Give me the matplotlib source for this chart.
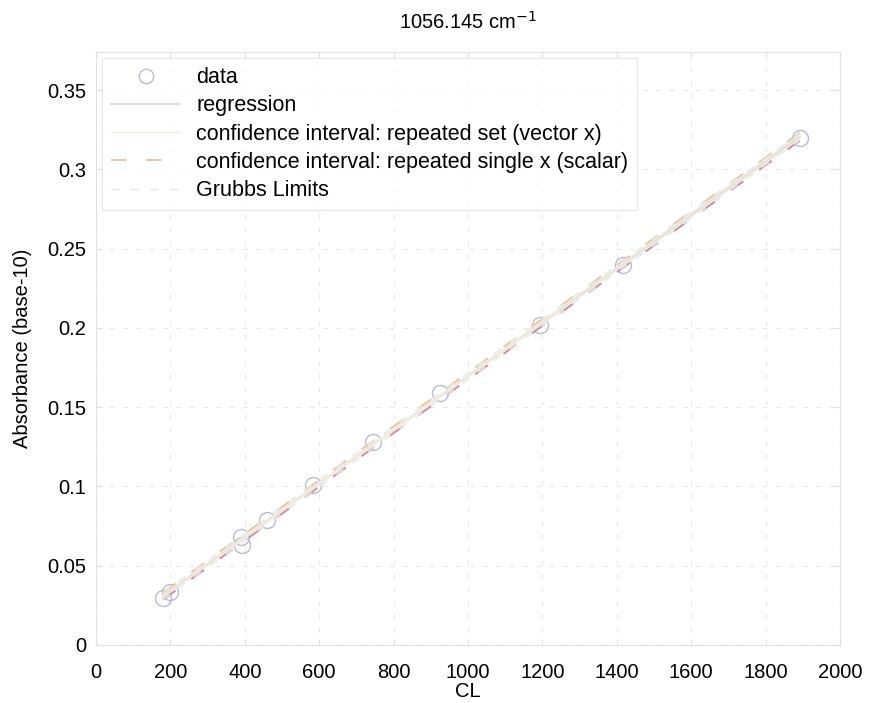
import numpy as np
import matplotlib
matplotlib.use("Agg")
import matplotlib.pyplot as plt

plt.rcParams['font.family'] = ['Liberation Sans', 'DejaVu Sans']

# ----------------------------------------------------------------------
# data
# ----------------------------------------------------------------------
cl = np.array([180, 200, 390, 392, 460, 583, 745, 925, 1194, 1417, 1892])
absorb = np.array([0.0296, 0.0334, 0.0680, 0.0630, 0.0788, 0.1010,
                   0.1280, 0.1590, 0.2018, 0.2396, 0.3197])

title = "1056.145 cm$^{-1}$"
xticks = [0, 200, 400, 600, 800, 1000, 1200, 1400, 1600, 1800, 2000]
yticks = [0, 0.05, 0.1, 0.15, 0.2, 0.25, 0.3, 0.35]
ytick_labels = ["0", "0.05", "0.1", "0.15", "0.2", "0.25", "0.3", "0.35"]

# band half widths as seen on the chart (they hug the line)
s_read = 0.0009
t_val = 2.262  # t(0.975, n-2)

# ----------------------------------------------------------------------
# regression + intervals
# ----------------------------------------------------------------------
slope, icpt = np.polyfit(cl, absorb, 1)
n = len(cl)
xs = np.linspace(cl.min(), cl.max(), 60)
fit = slope * xs + icpt
sxx = np.sum((cl - cl.mean())**2)
ci_vec = t_val * s_read * np.sqrt(1 / n + (xs - cl.mean())**2 / sxx)
ci_sc = t_val * s_read * np.sqrt(1 + 1 / n + (xs - cl.mean())**2 / sxx)
grubbs = 2.36 * s_read

# ----------------------------------------------------------------------
# plot
# ----------------------------------------------------------------------
fig = plt.figure(figsize=(8.7, 7.03), dpi=100)
ax = fig.add_axes([96 / 870, 1 - 645 / 703, 744 / 870, 593 / 703])

ax.plot(cl, absorb, 'o', ms=11.5, mfc='none', mec='#b8bccc', mew=1.0, label='data')
ax.plot(xs, fit, '-', color='#dedede', lw=1.5, label='regression')
ax.plot(xs, fit + ci_vec, '-', color='#f4ece0', lw=1.0,
        label='confidence interval: repeated set (vector x)')
ax.plot(xs, fit - ci_vec, '-', color='#f4ece0', lw=1.0)
ax.plot(xs, fit + ci_sc, '--', color='#e0c8a8', lw=1.4, dashes=(8, 10),
        label='confidence interval: repeated single x (scalar)')
ax.plot(xs, fit - ci_sc, '--', color='#c890a0', lw=1.4, dashes=(8, 10))
ax.plot(xs, fit + grubbs, '--', color='#e6e6e6', lw=1.0, dashes=(6, 8),
        label='Grubbs Limits')
ax.plot(xs, fit - grubbs, '--', color='#e6e6e6', lw=1.0, dashes=(6, 8))

ax.set_xlim(0, 2000)
ax.set_ylim(0, 0.374)
ax.set_xticks(xticks)
ax.set_yticks(yticks)
ax.set_yticklabels(ytick_labels)
ax.tick_params(labelsize=14.5, length=4, color='#e0e0e0', direction='in',
               top=True, right=True)
ax.tick_params(axis='x', pad=13)
ax.tick_params(axis='y', pad=7)
ax.grid(True, ls=(0, (4, 8)), color='#e6e6e6', lw=0.8)
for sp in ax.spines.values():
    sp.set_color('#e0e0e0')

ax.set_xlabel('CL', fontsize=14.5, labelpad=0)
ax.set_ylabel('Absorbance (base-10)', fontsize=14.5, labelpad=11)
ax.set_title(title, fontsize=14.5, pad=17)

leg = ax.legend(loc='upper left', fontsize=15.5, frameon=True, fancybox=False,
                edgecolor='#e0e0e0', borderaxespad=0.3, handlelength=3.2,
                handletextpad=0.75, labelspacing=0.34, borderpad=0.4,
                markerscale=0.9)
leg.get_frame().set_linewidth(0.8)

fig.savefig('out.png', dpi=100)
